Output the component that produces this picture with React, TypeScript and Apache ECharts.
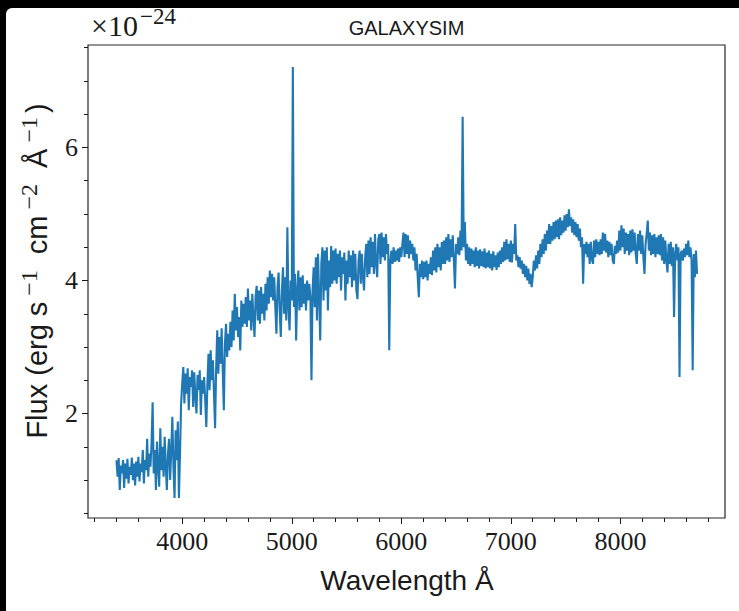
import React, { useEffect, useRef } from "react";
import * as echarts from "echarts";

// Spectrum sampled every 10 Å starting at 3400 Å (flux in units of 1e-24 erg s^-1 cm^-2 Å^-1)
const WAVE_START = 3400;
const WAVE_STEP = 10;
const FLUX: number[] = [
  // 3400 - 3590
  1.30, 1.05, 1.33, 0.85, 1.22, 1.10, 1.30, 0.88, 1.25, 1.02, 1.32, 0.95, 1.20, 1.08, 1.34, 1.00, 1.25, 0.92, 1.28, 1.05,
  // 3600 - 3790
  1.35, 0.98, 1.25, 1.12, 1.45, 0.95, 1.30, 1.15, 1.62, 1.05, 1.40, 1.20, 1.55, 2.17, 1.10, 1.45, 0.85, 1.58, 1.20, 0.90,
  // 3800 - 3990
  1.78, 1.15, 1.50, 1.05, 1.65, 1.20, 0.85, 1.40, 1.62, 1.00, 1.45, 1.95, 1.20, 0.73, 1.75, 1.30, 1.88, 0.73, 1.40, 2.15,
  // 4000 - 4190
  2.45, 2.70, 2.15, 2.60, 2.30, 2.68, 2.05, 2.55, 2.40, 2.65, 2.10, 2.62, 2.25, 2.00, 2.58, 2.35, 2.65, 1.98, 2.50, 2.30,
  // 4200 - 4390
  2.55, 2.20, 1.80, 2.45, 2.90, 2.35, 2.95, 2.50, 2.80, 2.30, 1.78, 2.70, 3.25, 2.60, 3.15, 2.75, 3.28, 2.65, 2.05, 3.05,
  // 4400 - 4590
  3.35, 2.85, 3.20, 2.95, 3.38, 3.00, 3.55, 3.10, 3.80, 3.25, 3.60, 3.15, 3.45, 2.95, 3.70, 3.30, 3.65, 3.35, 3.75, 3.30,
  // 4600 - 4790
  3.88, 3.40, 3.70, 3.25, 3.80, 3.45, 3.15, 3.75, 3.92, 3.40, 3.85, 3.35, 3.90, 3.50, 3.80, 3.40, 3.95, 3.55, 4.05, 3.65,
  // 4800 - 4990
  4.15, 3.75, 4.10, 3.70, 4.05, 3.60, 3.20, 3.90, 4.12, 3.55, 3.15, 3.85, 4.20, 3.50, 4.05, 3.40, 4.80, 3.60, 3.25, 4.00,
  // 5000 - 5190
  3.70, 7.21, 3.60, 4.10, 3.10, 3.85, 4.15, 3.55, 4.05, 3.60, 4.08, 3.65, 3.95, 3.55, 4.00, 3.70, 3.95, 3.75, 2.50, 3.85,
  // 5200 - 5390
  4.20, 3.60, 4.35, 3.40, 4.40, 3.75, 3.10, 4.25, 4.50, 3.70, 4.45, 3.85, 4.50, 3.55, 4.30, 3.90, 4.52, 3.95, 4.45, 4.00,
  // 5400 - 5590
  4.48, 3.95, 4.40, 4.05, 4.45, 3.85, 4.35, 4.10, 4.42, 3.70, 4.30, 3.95, 4.45, 4.05, 4.38, 3.90, 4.45, 4.00, 4.40, 3.85,
  // 5600 - 5790
  3.72, 4.30, 4.45, 3.95, 4.40, 4.05, 3.85, 4.35, 4.55, 4.05, 4.60, 4.10, 4.65, 4.20, 4.58, 4.10, 4.70, 4.25, 4.05, 4.62,
  // 5800 - 5990
  4.70, 4.25, 4.72, 4.35, 4.65, 4.30, 4.70, 4.40, 4.55, 2.95, 4.30, 4.45, 4.25, 4.50, 4.28, 4.45, 4.30, 4.48, 4.28, 4.50,
  // 6000 - 6190
  4.35, 4.55, 4.72, 4.35, 4.70, 4.40, 4.68, 4.33, 4.60, 4.40, 4.55, 4.30, 4.50, 4.15, 4.40, 4.05, 3.75, 4.25, 4.05, 4.30,
  // 6200 - 6390
  4.02, 4.28, 4.05, 4.30, 4.00, 4.25, 4.10, 4.35, 4.08, 4.45, 4.15, 4.50, 4.12, 4.55, 4.20, 4.50, 4.15, 4.58, 4.25, 4.60,
  // 6400 - 6590
  4.25, 4.65, 4.30, 4.70, 4.28, 4.62, 4.35, 4.68, 4.30, 3.88, 4.55, 4.40, 4.65, 4.38, 4.75, 4.45, 6.46, 4.50, 4.88, 4.30,
  // 6600 - 6790
  4.55, 4.25, 4.50, 4.22, 4.48, 4.25, 4.45, 4.20, 4.50, 4.22, 4.45, 4.18, 4.47, 4.22, 4.44, 4.20, 4.48, 4.18, 4.42, 4.20,
  // 6800 - 6990
  4.45, 4.18, 4.40, 4.15, 4.44, 4.20, 4.38, 4.16, 4.42, 4.20, 4.45, 4.25, 4.50, 4.28, 4.58, 4.30, 4.62, 4.32, 4.55, 4.28,
  // 7000 - 7190
  4.60, 4.27, 4.55, 4.40, 4.85, 4.30, 4.38, 4.20, 4.35, 4.18, 4.30, 4.10, 4.25, 4.05, 4.22, 4.00, 4.18, 3.95, 4.10, 3.90,
  // 7200 - 7390
  4.05, 4.30, 4.15, 4.38, 4.18, 4.45, 4.25, 4.55, 4.35, 4.62, 4.40, 4.70, 4.45, 4.75, 4.55, 4.85, 4.55, 4.82, 4.60, 4.88,
  // 7400 - 7590
  4.62, 4.90, 4.65, 4.92, 4.62, 4.95, 4.68, 4.90, 4.72, 4.98, 4.75, 5.00, 4.80, 5.07, 4.82, 4.95, 4.72, 4.92, 4.68, 4.88,
  // 7600 - 7790
  4.65, 4.85, 4.60, 4.78, 4.50, 4.65, 3.95, 4.55, 4.40, 4.58, 4.35, 4.55, 4.25, 4.58, 4.32, 4.25, 4.60, 4.35, 4.62, 4.40,
  // 7800 - 7990
  4.58, 4.38, 4.62, 4.40, 4.72, 4.45, 4.70, 4.42, 4.60, 4.35, 4.58, 4.38, 4.55, 4.30, 4.25, 4.52, 4.40, 4.60, 4.42, 4.75,
  // 8000 - 8190
  4.45, 4.83, 4.50, 4.78, 4.40, 4.72, 4.45, 4.70, 4.38, 4.75, 4.42, 4.77, 4.45, 4.72, 4.40, 4.25, 4.70, 4.45, 4.75, 4.40,
  // 8200 - 8390
  4.68, 4.35, 4.10, 4.55, 4.70, 4.90, 4.45, 4.72, 4.38, 4.68, 4.40, 4.70, 4.35, 4.65, 4.40, 4.68, 4.38, 4.70, 4.30, 4.65,
  // 8400 - 8590
  4.25, 4.60, 4.30, 4.12, 4.55, 4.25, 4.58, 4.22, 4.50, 3.45, 4.40, 4.55, 4.30, 4.50, 2.55, 4.40, 4.45, 4.30, 4.48, 4.35,
  // 8600 - 8700
  4.55, 4.38, 4.60, 4.35, 4.50, 4.30, 2.65, 4.40, 4.05, 4.45, 4.10,
];

const X_MAJOR = [4000, 5000, 6000, 7000, 8000];
const X_MINOR = [
  3200, 3400, 3600, 3800, 4200, 4400, 4600, 4800, 5200, 5400, 5600, 5800,
  6200, 6400, 6600, 6800, 7200, 7400, 7600, 7800, 8200, 8400, 8600, 8800,
];
const Y_MAJOR = [2, 4, 6];
const Y_MINOR = [0.5, 1, 1.5, 2.5, 3, 3.5, 4.5, 5, 5.5, 6.5, 7, 7.5];

const X_RANGE = [3140, 8955];
const Y_RANGE = [0.43, 7.54];

const SERIF = "'Liberation Serif', 'DejaVu Serif', serif";
const SANS = "'Liberation Sans', 'DejaVu Sans', sans-serif";
const INK = "#1a1a1a";
const LINE_COLOR = "#1f77b4";

const plain = (v: number) => String(v);

export default function App() {
  const ref = useRef<HTMLDivElement>(null);

  useEffect(() => {
    if (!ref.current) return;
    const chart = echarts.init(ref.current, undefined, { renderer: "svg" });
    const data = FLUX.map((f, i) => [WAVE_START + i * WAVE_STEP, f]);

    const tickAxisBase = {
      type: "value" as const,
      axisLine: { show: false },
      splitLine: { show: false },
    };

    chart.setOption({
      animation: false,
      grid: {
        left: 88,
        top: 45,
        width: 637,
        height: 473,
        show: true,
        borderColor: "#262626",
        borderWidth: 1.2,
        backgroundColor: "#ffffff",
      },
      xAxis: [
        {
          ...tickAxisBase,
          min: X_RANGE[0],
          max: X_RANGE[1],
          axisTick: {
            customValues: X_MAJOR,
            length: 6,
            lineStyle: { color: INK, width: 1 },
          },
          axisLabel: {
            customValues: X_MAJOR,
            formatter: plain,
            margin: 10,
            color: INK,
            fontFamily: SERIF,
            fontSize: 26,
          },
        },
        {
          ...tickAxisBase,
          min: X_RANGE[0],
          max: X_RANGE[1],
          position: "bottom",
          axisTick: {
            customValues: X_MINOR,
            length: 4,
            lineStyle: { color: INK, width: 1 },
          },
          axisLabel: { show: false },
        },
      ],
      yAxis: [
        {
          ...tickAxisBase,
          min: Y_RANGE[0],
          max: Y_RANGE[1],
          axisTick: {
            customValues: Y_MAJOR,
            length: 6,
            lineStyle: { color: INK, width: 1 },
          },
          axisLabel: {
            customValues: Y_MAJOR,
            formatter: plain,
            margin: 10,
            color: INK,
            fontFamily: SERIF,
            fontSize: 26,
          },
        },
        {
          ...tickAxisBase,
          min: Y_RANGE[0],
          max: Y_RANGE[1],
          position: "left",
          axisTick: {
            customValues: Y_MINOR,
            length: 4,
            lineStyle: { color: INK, width: 1 },
          },
          axisLabel: { show: false },
        },
      ],
      series: [
        {
          type: "line",
          xAxisIndex: 0,
          yAxisIndex: 0,
          data,
          showSymbol: false,
          symbol: "none",
          lineStyle: { color: LINE_COLOR, width: 2.1 },
        },
      ],
      graphic: [
        {
          type: "text",
          x: 406.5,
          y: 28,
          style: {
            text: "GALAXYSIM",
            fill: INK,
            font: `20px ${SANS}`,
            align: "center",
            verticalAlign: "middle",
          },
        },
        {
          type: "text",
          x: 91,
          y: 25,
          style: {
            text: "{a|×10}{b|−24}",
            fill: INK,
            align: "left",
            verticalAlign: "middle",
            rich: {
              a: { fontFamily: SERIF, fontSize: 30, lineHeight: 40, fill: INK },
              b: {
                fontFamily: SERIF,
                fontSize: 23,
                lineHeight: 23,
                verticalAlign: "top",
                padding: [0, 0, 0, 2],
                fill: INK,
              },
            },
          },
        },
        {
          type: "text",
          x: 407,
          y: 580,
          style: {
            text: "Wavelength Å",
            fill: INK,
            font: `28px ${SANS}`,
            align: "center",
            verticalAlign: "middle",
          },
        },
        {
          type: "text",
          x: 37,
          y: 271,
          rotation: Math.PI / 2,
          style: {
            text: "{m|Flux (erg s}{s|−1}{m|cm}{s|−2}{m|Å}{t|−1}{m|)}",
            fill: INK,
            align: "center",
            verticalAlign: "middle",
            rich: {
              m: { fontFamily: SANS, fontSize: 29, lineHeight: 40, fill: INK },
              s: {
                fontFamily: SERIF,
                fontSize: 24,
                lineHeight: 24,
                verticalAlign: "top",
                padding: [0, 16, 0, 6],
                fill: INK,
              },
              t: {
                fontFamily: SERIF,
                fontSize: 24,
                lineHeight: 24,
                verticalAlign: "top",
                padding: [0, 4, 0, 6],
                fill: INK,
              },
            },
          },
        },
      ],
    });

    return () => chart.dispose();
  }, []);

  return (
    <div
      style={{
        position: "fixed",
        left: 0,
        top: 0,
        width: 739,
        height: 611,
        background: "#000",
      }}
    >
      <div
        style={{
          position: "absolute",
          left: 6,
          top: 8,
          right: 0,
          bottom: 0,
          background: "#fff",
          borderTopLeftRadius: 6,
        }}
      />
      <div
        ref={ref}
        style={{ position: "absolute", left: 0, top: 0, width: 739, height: 611 }}
      />
    </div>
  );
}
